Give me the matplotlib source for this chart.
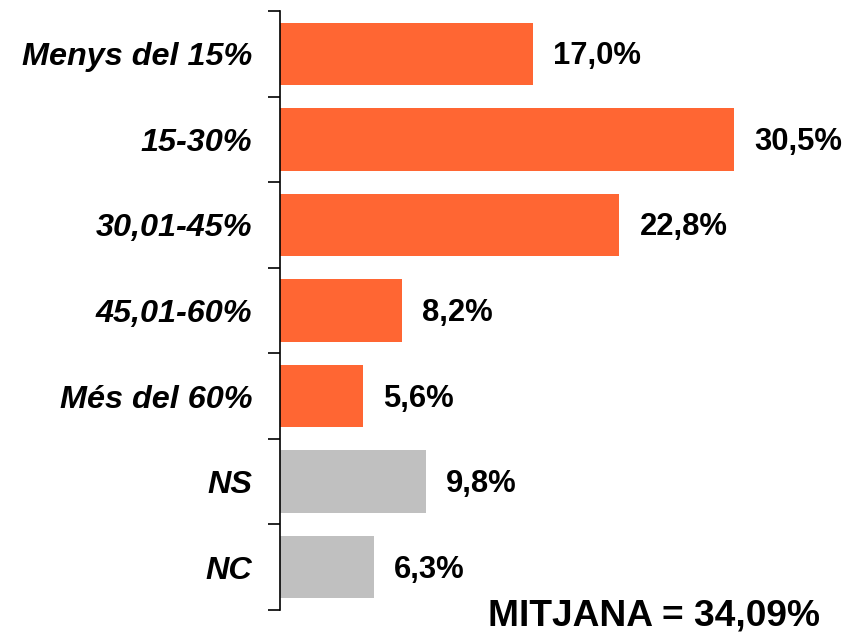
import numpy as np
import matplotlib.pyplot as plt

categories = ["Menys del 15%", "15-30%", "30,01-45%", "45,01-60%", "Més del 60%", "NS", "NC"]
values = [17.0, 30.5, 22.8, 8.2, 5.6, 9.8, 6.3]
colors = ["#FF6633"] * 5 + ["#C0C0C0"] * 2
mean_label = "MITJANA = 34,09%"

plt.rcParams['font.family'] = ['Liberation Sans', 'DejaVu Sans']

fig = plt.figure(figsize=(8.56, 6.36), dpi=100)
ax = fig.add_axes([280 / 856, 26 / 636, 576 / 856, 599 / 636])

y = np.arange(len(categories))
ax.barh(y, values, height=0.73, color=colors)

for yi, v in zip(y, values):
    ax.text(v + 1.35, yi + 0.03, f"{v:.1f}%".replace(".", ","), va="center", ha="left",
            fontsize=22.3, fontweight="bold")

ax.set_xlim(0, 38.7)
ax.set_ylim(len(categories) - 0.5, -0.5)

# labels at bar centres, tick marks between the bars
ax.set_yticks(y)
ax.set_yticklabels(categories, fontsize=23.3, fontweight="bold", fontstyle="italic")
ax.set_yticks(np.arange(-0.5, len(categories), 1.0), minor=True)
ax.tick_params(axis="y", which="major", length=0, pad=20)
ax.tick_params(axis="y", which="minor", length=9, width=1.2, direction="out")

ax.set_xticks([])
for side in ["top", "right", "bottom"]:
    ax.spines[side].set_visible(False)
ax.spines["left"].set_linewidth(1.2)

fig.text(488 / 856, 1 - 616 / 636, mean_label, ha="left", va="center",
         fontsize=26.7, fontweight="bold")

fig.savefig("out.png", dpi=100)
